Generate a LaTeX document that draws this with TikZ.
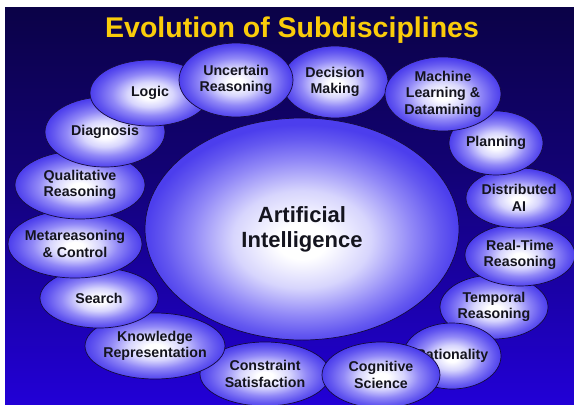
\documentclass[tikz,border=0pt]{standalone}
\usepackage{fontspec}
\setmainfont{Liberation Sans}
\usetikzlibrary{shapes.geometric}
\definecolor{bubedge}{RGB}{76,62,237}
\definecolor{bubmidA}{RGB}{215,213,253}
\definecolor{bubmidB}{RGB}{145,136,247}
\definecolor{bubmidC}{RGB}{100,88,240}
\definecolor{bubline}{RGB}{20,10,60}
\definecolor{txt}{RGB}{20,20,30}
\definecolor{titlecol}{RGB}{250,204,10}
\definecolor{bgtop}{RGB}{2,2,16}
\definecolor{bgmidA}{RGB}{18,2,115}
\definecolor{bgmidB}{RGB}{34,0,215}
\definecolor{bgbot}{RGB}{36,0,248}
\pgfdeclareradialshading{bubshade}{\pgfpoint{0bp}{-1.5bp}}{color(0bp)=(white); color(3bp)=(white); color(9.5bp)=(bubmidA); color(16bp)=(bubmidB); color(21.5bp)=(bubmidC); color(25bp)=(bubedge); color(50bp)=(bubedge)}
\pgfdeclareradialshading{aishade}{\pgfpoint{0bp}{-3bp}}{color(0bp)=(white); color(4bp)=(white); color(11bp)=(bubmidA); color(17.5bp)=(bubmidB); color(22bp)=(bubmidC); color(25bp)=(bubedge); color(50bp)=(bubedge)}
\pgfdeclareverticalshading{bgshade}{100bp}{color(0bp)=(bgbot); color(25bp)=(bgmidB); color(55bp)=(bgmidA); color(100bp)=(bgtop)}
\tikzset{
  bub/.style={ellipse, draw=bubline, line width=0.7pt, shading=bubshade, inner sep=0pt},
  bigbub/.style={bub, shading=aishade},
  lbl/.style={text=txt, font=\bfseries\fontsize{14.2}{16.5}\selectfont, align=center, inner sep=0pt},
  biglbl/.style={text=txt, font=\bfseries\fontsize{22}{25}\selectfont, align=center, inner sep=0pt},
  titlelbl/.style={text=titlecol, font=\bfseries\fontsize{28.5}{30}\selectfont, inner sep=0pt, anchor=base}
}
\newcommand\mybub[6]{%
  \node[bub, minimum width={2*#4pt}, minimum height={2*#5pt}] (#1) at (#2,#3) {};
  \node[lbl] (#1-t) at (#1.center) {#6};
}
\begin{document}
\begin{tikzpicture}[x=1pt,y=-1pt]
\useasboundingbox (0,0) rectangle (574,405);
\fill[white] (0,0) rectangle (574,405);
\shade[shading=bgshade] (5,7) rectangle (574,405);
\node[titlelbl] (title) at (292,37) {Evolution of Subdisciplines};
% central
\node[bigbub, minimum width=314pt, minimum height=222pt] (ai) at (302,229) {};
\node[biglbl] (ai-t) at (302,229) {Artificial\\Intelligence};
% bubbles, bottom to top
\mybub{temporal}{494}{307}{54}{32}{Temporal\\Reasoning}
\mybub{realtime}{520}{255}{55}{31}{Real-Time\\Reasoning}
\mybub{distributed}{519}{198}{53}{30}{Distributed\\AI}
\mybub{planning}{496}{143}{47}{32}{Planning}
\mybub{decision}{335}{82}{53}{36}{Decision\\Making}
\mybub{machine}{443}{94}{58}{37}{Machine\\Learning \&\\Datamining}
\mybub{rationality}{452}{356}{49}{33}{Rationality}
\mybub{constraint}{265}{374}{65}{32}{Constraint\\Satisfaction}
\mybub{cognitive}{381}{375}{59}{33}{Cognitive\\Science}
\mybub{knowledge}{155}{346}{70}{33}{Knowledge\\Representation}
\mybub{search}{99}{298}{59}{30}{Search}
\mybub{meta}{75}{244}{67}{34}{Metareasoning\\\& Control}
\mybub{qualitative}{80}{185}{65}{34}{Qualitative\\Reasoning}
\mybub{diagnosis}{105}{132}{60}{35}{Diagnosis}
\mybub{logic}{150}{93}{60}{33}{Logic}
\mybub{uncertain}{236}{80}{57}{37}{Uncertain\\Reasoning}
\end{tikzpicture}
\end{document}
